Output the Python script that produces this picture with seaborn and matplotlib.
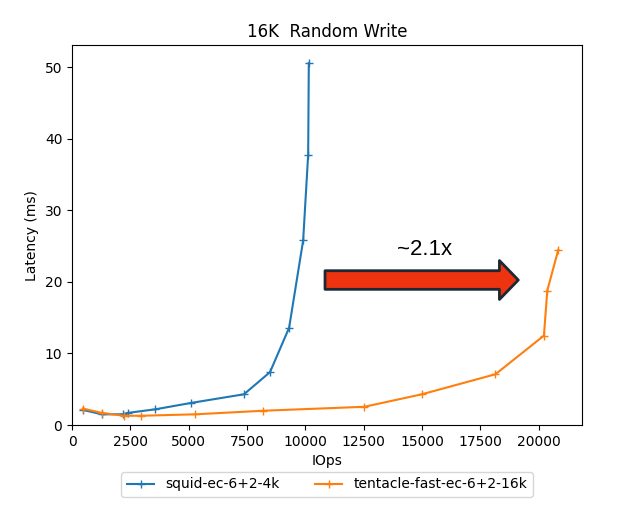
"""
16K random write: latency vs IOps for two cluster configs.
"""

import pandas as pd
import matplotlib
matplotlib.use("Agg")
import matplotlib.pyplot as plt
import seaborn as sns

# squid-ec-6+2-4k
squid_iops = [486, 1277, 2165, 2394, 3570, 5118, 7370, 8487, 9305, 9907, 10122, 10150]
squid_latency = [2.1, 1.5, 1.5, 1.7, 2.2, 3.1, 4.3, 7.4, 13.6, 25.8, 37.8, 50.6]

# tentacle-fast-ec-6+2-16k
tentacle_iops = [459, 1277, 2208, 2968, 5290, 8201, 12530, 14997, 18151, 20229, 20373, 20845]
tentacle_latency = [2.3, 1.7, 1.3, 1.3, 1.5, 2.0, 2.55, 4.3, 7.1, 12.5, 18.8, 24.5]

series_names = ["squid-ec-6+2-4k", "tentacle-fast-ec-6+2-16k"]
speedup_label = "~2.1x"


def build_frame():
    squid = pd.DataFrame({"IOps": squid_iops, "Latency": squid_latency,
                          "config": series_names[0]})
    tentacle = pd.DataFrame({"IOps": tentacle_iops, "Latency": tentacle_latency,
                             "config": series_names[1]})
    return pd.concat([squid, tentacle], ignore_index=True)


def main():
    df = build_frame()

    fig = plt.figure(figsize=(6.32, 5.28), dpi=100)
    ax = fig.add_axes([0.114, 0.195, 0.807, 0.719])

    sns.lineplot(data=df, x="IOps", y="Latency", hue="config",
                 palette=["#1f77b4", "#ff7f0e"], marker="+", markersize=6,
                 markeredgewidth=1.0, sort=False, linewidth=1.5, ax=ax)

    # seaborn paints marker edges white; '+' markers need the line colour
    for line in ax.get_lines():
        line.set_markeredgecolor(line.get_color())

    ax.set_xlim(left=0)
    ax.set_ylim(bottom=0)
    ax.set_title("16K  Random Write")
    ax.set_xlabel("IOps")
    ax.set_ylabel("Latency (ms)")

    # legend under the axes, two columns
    handles, labels = ax.get_legend_handles_labels()
    for h in handles:
        h.set_markeredgecolor(h.get_color())
    ax.legend(handles, labels, loc="upper center", bbox_to_anchor=(0.5, -0.105),
              ncol=2, frameon=True, columnspacing=2.5)

    # the big "speedup" arrow
    ax.annotate("", xy=(0.875, 0.382), xytext=(0.496, 0.382),
                xycoords="axes fraction",
                arrowprops=dict(arrowstyle="simple,head_length=0.68,head_width=1.4,tail_width=0.67",
                                mutation_scale=20, fc="#EE3311", ec="#1C2833", lw=2,
                                shrinkA=0, shrinkB=0))
    ax.text(0.691, 0.462, speedup_label, transform=ax.transAxes, ha="center",
            va="center", fontsize=16, family=["Liberation Sans", "DejaVu Sans"])

    fig.savefig("out.png", dpi=100)
    plt.close(fig)


if __name__ == "__main__":
    main()
